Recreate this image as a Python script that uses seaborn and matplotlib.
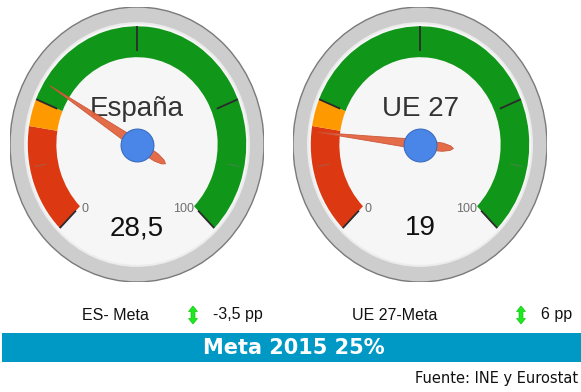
import numpy as np
import matplotlib
matplotlib.use("Agg")
import matplotlib.pyplot as plt
from matplotlib.patches import Wedge, Ellipse, Polygon, Rectangle
import seaborn as sns

# ---- data ----
regions = ["España", "UE 27"]
values = [28.5, 19.0]
value_labels = ["28,5", "19"]
gap_names = ["ES- Meta", "UE 27-Meta"]
target = 25
target_year = 2015
band_limits = [0, 20, 25, 100]          # red / orange / green
band_colors = ["#dc3912", "#ff9900", "#109618"]
major_ticks = [0, 25, 50, 75, 100]
minor_ticks = [12.5, 87.5]
source_text = "Fuente: INE y Eurostat"

sns.set_theme(style="white")
plt.rcParams["font.family"] = ["Liberation Sans", "DejaVu Sans"]

W, H = 581, 392
fig = plt.figure(figsize=(W / 100, H / 100), dpi=100)
fig.patch.set_facecolor("white")


def ang(v):
    """Gauge value (0..100) -> angle in degrees, sweeping 270 degrees clockwise."""
    return 225.0 - 2.7 * v


def draw_gauge(ax, title, value, label):
    ax.set_xlim(-1, 1)
    ax.set_ylim(-1, 1)
    ax.axis("off")
    # bezel
    ax.add_patch(Ellipse((0, 0), 2.0, 2.0, facecolor="#cdcdcd", edgecolor="#7a7a7a", lw=1.0, zorder=1))
    ax.add_patch(Ellipse((0, 0), 1.78, 1.78, facecolor="#ececec", edgecolor="none", zorder=2))
    ax.add_patch(Ellipse((0, 0), 1.75, 1.75, facecolor="#f6f6f6", edgecolor="none", zorder=3))
    # coloured bands
    for (a, b), col in zip(zip(band_limits[:-1], band_limits[1:]), band_colors):
        ax.add_patch(Wedge((0, 0), 0.86, ang(b), ang(a), width=0.225, facecolor=col,
                           edgecolor="none", zorder=4))
    # ticks
    for t in major_ticks:
        th = np.deg2rad(ang(t))
        ax.plot([0.68 * np.cos(th), 0.86 * np.cos(th)], [0.68 * np.sin(th), 0.86 * np.sin(th)],
                color="#2b2b2b", lw=1.3, zorder=5, solid_capstyle="butt")
    for t in minor_ticks:
        th = np.deg2rad(ang(t))
        ax.plot([0.73 * np.cos(th), 0.82 * np.cos(th)], [0.73 * np.sin(th), 0.82 * np.sin(th)],
                color="#7a7a7a", lw=0.8, alpha=0.45, zorder=5)
    # scale labels
    ax.text(-0.41, -0.47, "0", ha="center", va="center", fontsize=9, color="#6f6f6f", zorder=6)
    ax.text(0.37, -0.47, "100", ha="center", va="center", fontsize=9, color="#6f6f6f", zorder=6)
    # title and value
    ax.text(0, 0.26, title, ha="center", va="center", fontsize=20, color="#333333", zorder=6)
    ax.text(0, -0.61, label, ha="center", va="center", fontsize=20, color="#111111", zorder=6)
    # needle
    th = np.deg2rad(ang(value))
    shape = np.array([[0.81, 0.0], [0.35, 0.02], [0.0, 0.036], [-0.18, 0.03],
                      [-0.24, 0.017], [-0.265, 0.0], [-0.24, -0.017], [-0.18, -0.03],
                      [0.0, -0.036], [0.35, -0.02]])
    rot = np.array([[np.cos(th), -np.sin(th)], [np.sin(th), np.cos(th)]])
    pts = shape @ rot.T
    ax.add_patch(Polygon(pts, closed=True, facecolor="#e4653f", edgecolor="#c85336",
                         lw=0.6, alpha=0.95, zorder=7))
    # hub
    sns.scatterplot(x=[0], y=[0], ax=ax, s=560, color="#4a86e8", edgecolor="#3a6cc0",
                    linewidth=0.8, zorder=8, legend=False)


centers_px = [137, 420]
for cx, title, val, lab in zip(centers_px, regions, values, value_labels):
    left = (cx - 127) / W
    bottom = 1 - 282 / H
    ax = fig.add_axes([left, bottom, 254 / W, 275 / H])
    draw_gauge(ax, title, val, lab)

# summary row and banner
ov = fig.add_axes([0, 0, 1, 1])
ov.set_xlim(0, W)
ov.set_ylim(H, 0)
ov.axis("off")

# up/down arrow icon outline (half-height 9, head 6 long)
icon = np.array([[0, -9], [4.5, -3.5], [2, -3.5], [2, 3.5], [4.5, 3.5], [0, 9],
                 [-4.5, 3.5], [-2, 3.5], [-2, -3.5], [-4.5, -3.5]])

gaps = [target - v for v in values]
row_y = 315
name_x = [115, 395]
arrow_x = [193, 521]
gap_x = [213, 541]
for nm, g, nx, axx, gx in zip(gap_names, gaps, name_x, arrow_x, gap_x):
    ov.text(nx, row_y, nm, ha="center", va="center", fontsize=11.5, color="#111111")
    ov.add_patch(Polygon(icon + [axx, row_y], closed=True, facecolor="#1ee81e",
                         edgecolor="#14c814", lw=0.5))
    gtxt = f"{g:g}".replace(".", ",") + " pp"
    ov.text(gx, row_y, gtxt, ha="left", va="center", fontsize=11.5, color="#111111")

ov.add_patch(Rectangle((2, 333), W - 2, 29, facecolor="#0099c5", edgecolor="none"))
ov.text(294, 348, f"Meta {target_year} {target}%", ha="center", va="center", fontsize=15,
        fontweight="bold", family="DejaVu Sans", color="white")
ov.text(578, 379, source_text, ha="right", va="center", fontsize=10.5, family="DejaVu Sans",
        color="#111111")

fig.savefig("out.png", dpi=100, facecolor="white")
